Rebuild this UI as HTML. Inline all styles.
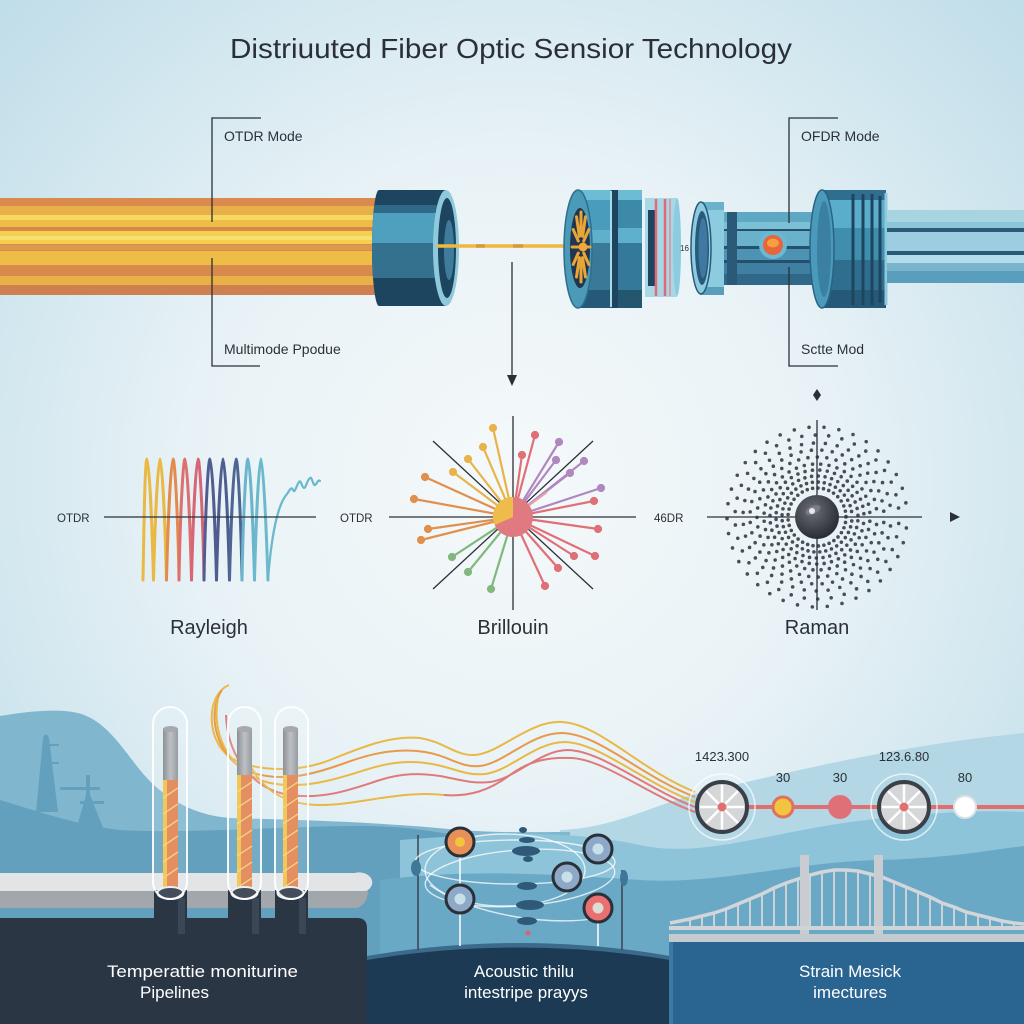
<!DOCTYPE html>
<html><head><meta charset="utf-8">
<style>
html,body{margin:0;padding:0;width:1024px;height:1024px;overflow:hidden;background:#e6f1f5}
svg{display:block}
text{font-family:"Liberation Sans",sans-serif}
</style></head>
<body>
<svg width="1024" height="1024" viewBox="0 0 1024 1024" xmlns="http://www.w3.org/2000/svg">
<defs>
<radialGradient id="bg" cx="512" cy="480" r="720" gradientUnits="userSpaceOnUse">
<stop offset="0" stop-color="#f5f9fa"/>
<stop offset="0.45" stop-color="#e8f2f6"/>
<stop offset="1" stop-color="#bddce8"/>
</radialGradient>
<radialGradient id="ball" cx="0.4" cy="0.35" r="0.7">
<stop offset="0" stop-color="#6a6e76"/>
<stop offset="1" stop-color="#25282e"/>
</radialGradient>
<linearGradient id="rodg" x1="0" y1="0" x2="1" y2="0">
<stop offset="0" stop-color="#7d8288"/>
<stop offset="0.5" stop-color="#b4b8bc"/>
<stop offset="1" stop-color="#8a8e94"/>
</linearGradient>
<clipPath id="c1"><path d="M379,190 L446,190 L446,306 L379,306 A7,58 0 0,1 379,190 Z"/></clipPath>
<clipPath id="cab"><path d="M0,198 L378,198 A8,48.5 0 0,1 378,295 L0,295 Z"/></clipPath>
</defs>

<rect width="1024" height="1024" fill="url(#bg)"/>

<!-- Title -->
<text x="511" y="58" font-size="28" text-anchor="middle" textLength="562" lengthAdjust="spacingAndGlyphs" fill="#2a2f38">Distriuuted Fiber Optic Sensior Technology</text>

<!-- ===== TOP FIBER ===== -->
<g clip-path="url(#cab)">
<rect x="0" y="198" width="390" height="97" fill="#d98a4c"/>
<rect x="0" y="206" width="390" height="9" fill="#e8b048"/>
<rect x="0" y="215" width="390" height="5" fill="#f6d862"/>
<rect x="0" y="220" width="390" height="7" fill="#eebd46"/>
<rect x="0" y="227" width="390" height="3" fill="#d6884a"/>
<rect x="0" y="231" width="390" height="13" fill="#f4cf50"/>
<rect x="0" y="236" width="390" height="4" fill="#f8e070"/>
<rect x="0" y="245" width="390" height="5" fill="#dc9a4c"/>
<rect x="0" y="251" width="390" height="14" fill="#eebd46"/>
<rect x="0" y="266" width="390" height="9" fill="#d68a4c"/>
<rect x="0" y="276" width="390" height="9" fill="#e9b048"/>
<rect x="0" y="285" width="390" height="10" fill="#cf8050"/>
</g>

<!-- connector 1 -->
<g clip-path="url(#c1)">
<rect x="370" y="190" width="80" height="116" fill="#1d4560"/>
<rect x="370" y="205" width="80" height="8" fill="#2e6a88"/>
<rect x="370" y="213" width="80" height="30" fill="#4f9fbe"/>
<rect x="370" y="243" width="80" height="35" fill="#33718f"/>
</g>
<ellipse cx="446" cy="248" rx="13" ry="58" fill="#8fcadc"/>
<ellipse cx="447" cy="248" rx="9" ry="50" fill="#1d4560"/>
<ellipse cx="449" cy="250" rx="5" ry="30" fill="#3f7c9c"/>
<!-- fiber -->
<line x1="437" y1="246" x2="578" y2="246" stroke="#f0b83c" stroke-width="3.5"/>
<line x1="476" y1="246" x2="485" y2="246" stroke="#d49a3e" stroke-width="3.5"/>
<line x1="513" y1="246" x2="523" y2="246" stroke="#d49a3e" stroke-width="3.5"/>

<!-- connector 2 -->
<rect x="645" y="198" width="32" height="99" fill="#a8d8e6"/>
<rect x="648" y="210" width="8" height="76" fill="#1d4560"/>
<line x1="656" y1="199" x2="656" y2="296" stroke="#e06a78" stroke-width="2.5"/>
<line x1="665" y1="199" x2="665" y2="296" stroke="#e06a78" stroke-width="2.5"/>
<line x1="670" y1="199" x2="670" y2="296" stroke="#e88a94" stroke-width="1.5"/>
<ellipse cx="677" cy="247" rx="4" ry="49" fill="#8ccbe0"/>
<rect x="610" y="190" width="32" height="118" fill="#3d8aa8"/>
<rect x="610" y="190" width="32" height="10" fill="#6dbcd6"/>
<rect x="610" y="228" width="32" height="15" fill="#5fb0cc"/>
<rect x="610" y="243" width="32" height="47" fill="#34789a"/>
<rect x="610" y="290" width="32" height="18" fill="#24566f"/>
<rect x="610" y="190" width="8" height="118" fill="#1d4560"/>
<rect x="580" y="190" width="31" height="118" fill="#4a9cbc"/>
<rect x="580" y="190" width="31" height="10" fill="#6dbcd6"/>
<rect x="580" y="230" width="31" height="13" fill="#5fb0cc"/>
<rect x="580" y="243" width="31" height="47" fill="#3a7a98"/>
<rect x="580" y="290" width="31" height="18" fill="#245a78"/>
<line x1="611" y1="191" x2="611" y2="307" stroke="#a8dbe8" stroke-width="2"/>
<ellipse cx="578" cy="249" rx="14" ry="59" fill="#4a9ab8" stroke="#2e6f8e" stroke-width="1.5"/>
<ellipse cx="580" cy="248" rx="10" ry="40" fill="#1f3550"/>
<g stroke="#e9a535" stroke-width="3" stroke-linecap="round">
<line x1="584" y1="247" x2="590" y2="247"/>
<line x1="583.7" y1="253" x2="588.8" y2="264.5"/>
<line x1="582.6" y1="257.6" x2="585.5" y2="277"/>
<line x1="581" y1="259.3" x2="581" y2="282"/>
<line x1="579.4" y1="257.6" x2="576.5" y2="277"/>
<line x1="578.3" y1="253" x2="573.2" y2="264.5"/>
<line x1="577.8" y1="247" x2="572" y2="247"/>
<line x1="578.3" y1="241" x2="573.2" y2="229.5"/>
<line x1="579.4" y1="236.4" x2="576.5" y2="216.7"/>
<line x1="581" y1="234.7" x2="581" y2="212"/>
<line x1="582.6" y1="236.4" x2="585.5" y2="216.7"/>
<line x1="583.7" y1="241" x2="588.8" y2="229.5"/>
</g>
<circle cx="583" cy="247" r="4.5" fill="#f0a838"/>
<text x="680" y="251" font-size="8" fill="#2a2f38">16</text>

<!-- connector 3 -->
<rect x="722" y="212" width="115" height="73" fill="#3f80a2"/>
<rect x="722" y="212" width="115" height="10" fill="#5ea8c4"/>
<rect x="722" y="222" width="115" height="7" fill="#7cc0d6"/>
<rect x="722" y="229" width="115" height="2.5" fill="#24506c"/>
<rect x="722" y="231" width="115" height="15" fill="#6ab2cc"/>
<rect x="722" y="246" width="115" height="3" fill="#24506c"/>
<rect x="722" y="249" width="115" height="11" fill="#4f93b4"/>
<rect x="722" y="260" width="115" height="3" fill="#24506c"/>
<rect x="722" y="274" width="115" height="11" fill="#2f6888"/>
<rect x="727" y="212" width="10" height="73" fill="#2a5a78"/>
<rect x="700" y="202" width="24" height="93" fill="#8ccbe0"/>
<rect x="700" y="202" width="24" height="8" fill="#6ab2cc"/>
<rect x="700" y="287" width="24" height="8" fill="#5a9ebe"/>
<ellipse cx="701" cy="248" rx="10" ry="46" fill="#8ccbe0" stroke="#2a5a78" stroke-width="1.5"/>
<ellipse cx="702" cy="248" rx="7" ry="37" fill="#2a5a7a"/>
<ellipse cx="703" cy="248" rx="4.5" ry="30" fill="#3f78a0"/>
<circle cx="773" cy="245" r="14" fill="#6ab8d4"/>
<circle cx="773" cy="245" r="10" fill="#e8643a"/>
<ellipse cx="773" cy="243" rx="6" ry="4.5" fill="#f2a040"/>
<!-- big ring -->
<rect x="822" y="190" width="64" height="118" fill="#2f6e8e"/>
<rect x="822" y="200" width="64" height="28" fill="#5aaecb"/>
<rect x="822" y="228" width="64" height="32" fill="#3f8eae"/>
<rect x="822" y="290" width="64" height="18" fill="#245a78"/>
<g stroke="#1e4560" stroke-width="3">
<line x1="853" y1="194" x2="853" y2="305"/>
<line x1="863" y1="194" x2="863" y2="305"/>
<line x1="872" y1="194" x2="872" y2="305"/>
<line x1="880" y1="196" x2="880" y2="303"/>
</g>
<line x1="886" y1="193" x2="886" y2="305" stroke="#8fcadc" stroke-width="3"/>
<ellipse cx="822" cy="249" rx="12" ry="59" fill="#4b9abb" stroke="#2a6384" stroke-width="1.5"/>
<ellipse cx="824" cy="249" rx="7" ry="48" fill="#3a80a2"/>
<!-- pipe right -->
<rect x="887" y="210" width="137" height="73" fill="#5a9ebe"/>
<rect x="887" y="210" width="137" height="12" fill="#a8d4e2"/>
<rect x="887" y="222" width="137" height="6" fill="#8cc4d8"/>
<rect x="887" y="228" width="137" height="4" fill="#2a5a78"/>
<rect x="887" y="232" width="137" height="19" fill="#9ccde0"/>
<rect x="887" y="251" width="137" height="4" fill="#2a5a78"/>
<rect x="887" y="255" width="137" height="8" fill="#b2dcea"/>
<rect x="887" y="263" width="137" height="8" fill="#7ab4cc"/>

<!-- brackets / labels -->
<g stroke="#2b3038" stroke-width="1.3" fill="none">
<polyline points="261,118 212,118 212,222"/>
<polyline points="212,258 212,366 260,366"/>
<polyline points="838,118 789,118 789,223"/>
<polyline points="789,267 789,366 838,366"/>
<line x1="512" y1="262" x2="512" y2="378"/>
</g>
<path d="M507,375 L517,375 L512,386 Z" fill="#2b3038"/>
<path d="M817,389 L821,395 L817,401 L813,395 Z" fill="#2b3038"/>
<g font-size="14" fill="#2b3038">
<text x="224" y="141">OTDR Mode</text>
<text x="224" y="354">Multimode Ppodue</text>
<text x="801" y="141">OFDR Mode</text>
<text x="801" y="354">Sctte Mod</text>
</g>

<!-- ===== MIDDLE: scattering ===== -->
<g font-size="11.5" fill="#2b3038">
<text x="57" y="522">OTDR</text>
<text x="340" y="522">OTDR</text>
<text x="654" y="522">46DR</text>
</g>
<g font-size="20" fill="#2b3038" text-anchor="middle">
<text x="209" y="634">Rayleigh</text>
<text x="513" y="634">Brillouin</text>
<text x="817" y="634">Raman</text>
</g>

<!-- Rayleigh -->
<g fill="none" stroke-width="3" stroke-linecap="round">
<path d="M143,580 C144,520 145,459 147,459 C149,459 152,520 153.5,580" stroke="#e9b944"/>
<path d="M153.5,580 C155,520 158,459 160,459 C162,459 165,520 166.5,580" stroke="#e9b944"/>
<path d="M166.5,580 C168,520 171,459 173,459 C175,459 178,520 179,580" stroke="#e38b4b"/>
<path d="M179,580 C180,520 183,459 185,459 C187,459 190,520 191.5,580" stroke="#dc6f6f"/>
<path d="M191.5,580 C193,520 196,459 198,459 C200,459 203,520 204,580" stroke="#d66676"/>
<path d="M204,580 C205,520 208,459 210,459 C212,459 215,520 216.5,580" stroke="#535c90"/>
<path d="M216.5,580 C218,520 221,459 223,459 C225,459 228,520 229.5,580" stroke="#4e5d8f"/>
<path d="M229.5,580 C231,520 234,459 236,459 C238,459 241,520 242,580" stroke="#4e6694"/>
<path d="M242,580 C243,520 246,459 248,459 C250,459 253,520 254.5,580" stroke="#6ab4cc"/>
<path d="M254.5,580 C256,520 259,459 261,459 C263,459 266,520 268,580" stroke="#6cb8cc"/>
<path d="M268,580 C271,540 277,505 287,494 C290,490 291,486 293,490 C295,494 296,486 299,482 C301,479 302,488 304,488 C306,488 307,480 310,478 C312,476 313,486 315,485 C317,484 318,479 320,481" stroke="#6ab8cc" stroke-width="2.2"/>
</g>
<line x1="104" y1="517" x2="316" y2="517" stroke="#2b3038" stroke-width="1.3"/>

<!-- Brillouin -->
<g stroke="#2b3038" stroke-width="1.3">
<line x1="389" y1="517" x2="636" y2="517"/>
<line x1="513" y1="416" x2="513" y2="610"/>
<line x1="433" y1="441" x2="593" y2="589"/>
<line x1="593" y1="441" x2="433" y2="589"/>
</g>
<g stroke-width="2.2">
<g stroke="#e8b44a" fill="#e8b44a">
<line x1="513" y1="517" x2="493" y2="428"/><circle cx="493" cy="428" r="3"/>
<line x1="513" y1="517" x2="483" y2="447"/><circle cx="483" cy="447" r="3"/>
<line x1="513" y1="517" x2="468" y2="459"/><circle cx="468" cy="459" r="3"/>
<line x1="513" y1="517" x2="453" y2="472"/><circle cx="453" cy="472" r="3"/>
</g>
<g stroke="#e0904c" fill="#e0904c">
<line x1="513" y1="517" x2="425" y2="477"/><circle cx="425" cy="477" r="3"/>
<line x1="513" y1="517" x2="414" y2="499"/><circle cx="414" cy="499" r="3"/>
<line x1="513" y1="517" x2="428" y2="529"/><circle cx="428" cy="529" r="3"/>
<line x1="513" y1="517" x2="421" y2="540"/><circle cx="421" cy="540" r="3"/>
</g>
<g stroke="#82b880" fill="#82b880">
<line x1="513" y1="517" x2="452" y2="557"/><circle cx="452" cy="557" r="3"/>
<line x1="513" y1="517" x2="468" y2="572"/><circle cx="468" cy="572" r="3"/>
<line x1="513" y1="517" x2="491" y2="589"/><circle cx="491" cy="589" r="3"/>
</g>
<g stroke="#b088c0" fill="#b088c0">
<line x1="513" y1="517" x2="559" y2="442"/><circle cx="559" cy="442" r="3"/>
<line x1="513" y1="517" x2="556" y2="460"/><circle cx="556" cy="460" r="3"/>
<line x1="513" y1="517" x2="584" y2="461"/><circle cx="584" cy="461" r="3"/>
<line x1="513" y1="517" x2="570" y2="473"/><circle cx="570" cy="473" r="3"/>
<line x1="513" y1="517" x2="601" y2="488"/><circle cx="601" cy="488" r="3"/>
</g>
<g stroke="#e07078" fill="#e07078">
<line x1="513" y1="517" x2="535" y2="435"/><circle cx="535" cy="435" r="3"/>
<line x1="513" y1="517" x2="522" y2="455"/><circle cx="522" cy="455" r="3"/>
<line x1="513" y1="517" x2="594" y2="501"/><circle cx="594" cy="501" r="3"/>
<line x1="513" y1="517" x2="598" y2="529"/><circle cx="598" cy="529" r="3"/>
<line x1="513" y1="517" x2="595" y2="556"/><circle cx="595" cy="556" r="3"/>
<line x1="513" y1="517" x2="574" y2="556"/><circle cx="574" cy="556" r="3"/>
<line x1="513" y1="517" x2="558" y2="568"/><circle cx="558" cy="568" r="3"/>
<line x1="513" y1="517" x2="545" y2="586"/><circle cx="545" cy="586" r="3"/>
<line x1="513" y1="517" x2="547" y2="492" stroke="#e8a0a8"/>
</g>
</g>
<circle cx="513" cy="517" r="20" fill="#e07a80"/>
<path d="M513,517 L513,497 A20,20 0 0,0 494.7,525.1 Z" fill="#eebc4a"/>

<!-- Raman -->
<g fill="none" stroke="#4a4d55" stroke-width="3.6" stroke-linecap="round">
<circle cx="817" cy="517" r="29" stroke-dasharray="0 5.5"/>
<circle cx="817" cy="517" r="35" stroke-dasharray="0 6" stroke-dashoffset="2"/>
<circle cx="817" cy="517" r="41" stroke-dasharray="0 6.8" stroke-dashoffset="3"/>
<circle cx="817" cy="517" r="47" stroke-dasharray="0 7.5" stroke-dashoffset="1"/>
<circle cx="817" cy="517" r="53" stroke-dasharray="0 8.3" stroke-dashoffset="4"/>
<circle cx="817" cy="517" r="60" stroke-dasharray="0 9.5" stroke-dashoffset="2"/>
<circle cx="817" cy="517" r="67" stroke-dasharray="0 10.5" stroke-dashoffset="5"/>
<circle cx="817" cy="517" r="74" stroke-dasharray="0 12" stroke-dashoffset="3"/>
<circle cx="817" cy="517" r="82" stroke-dasharray="0 13.5" stroke-dashoffset="7"/>
<circle cx="817" cy="517" r="90" stroke-dasharray="0 15" stroke-dashoffset="4"/>
</g>
<g stroke="#2b3038" stroke-width="1.3">
<line x1="707" y1="517" x2="922" y2="517"/>
<line x1="817" y1="420" x2="817" y2="610"/>
</g>
<circle cx="817" cy="517" r="22" fill="url(#ball)"/>
<ellipse cx="813" cy="510" rx="8" ry="4" fill="#8a8e96" opacity="0.6" transform="rotate(-25 813 510)"/>
<circle cx="812" cy="511" r="3" fill="#e8e8e8"/>
<path d="M950,512 L960,517 L950,522 Z" fill="#2b3038"/>

<!-- ===== BOTTOM LANDSCAPE ===== -->
<path d="M560,830 C620,828 660,800 720,788 C800,770 900,745 1024,733 L1024,1024 L560,1024 Z" fill="#b3d7e5"/>
<path d="M0,716 C25,712 55,708 78,713 C105,720 120,745 140,770 C160,795 190,815 230,818 C300,820 380,822 460,830 C500,833 530,832 570,832 L570,1024 L0,1024 Z" fill="#80b7ce"/>
<!-- silhouettes -->
<g fill="#62a0be">
<path d="M36,812 L43,738 Q46,731 49,738 L58,812 Z"/>
<rect x="49" y="744" width="10" height="2"/>
<rect x="49" y="762" width="10" height="2"/>
<path d="M76,830 L86,795 L86,775 L90,775 L90,795 L104,830 Z"/>
<rect x="60" y="787" width="40" height="3"/>
<rect x="80" y="801" width="24" height="3"/>
</g>
<path d="M0,800 C40,812 80,826 120,830 C200,834 280,826 360,826 C430,826 470,840 540,850 L540,1024 L0,1024 Z" fill="#62a0be"/>
<path d="M400,840 C480,834 560,828 640,845 C700,858 760,835 850,822 C930,812 980,810 1024,812 L1024,1024 L400,1024 Z" fill="#8ec4d9"/>
<path d="M380,880 C470,868 560,875 640,880 C720,885 790,862 880,860 C950,858 990,850 1024,846 L1024,1024 L380,1024 Z" fill="#6aa9c6"/>

<!-- fiber waves -->
<g fill="none" stroke-width="2">
<path d="M229,685 C205,695 205,745 235,760 C260,772 300,772 330,760 C360,748 390,735 420,738 C445,742 455,756 475,755 C500,753 530,720 562,722 C600,724 640,770 695,792" stroke="#e9b845"/>
<path d="M222,690 C205,715 218,760 250,772 C285,784 320,772 345,763 C375,752 400,748 425,752 C450,756 460,768 480,766 C505,763 530,733 562,733 C600,734 640,776 695,797" stroke="#e89a4c"/>
<path d="M218,698 C210,740 235,775 270,783 C305,790 340,778 365,770 C390,762 410,760 432,764 C455,768 465,776 485,774 C510,771 535,742 565,742 C600,743 642,782 695,802" stroke="#e9b845"/>
<path d="M226,715 C228,760 255,790 290,795 C325,800 355,788 380,780 C402,773 420,773 440,776 C462,780 472,784 490,782 C515,779 540,750 568,750 C602,751 645,788 695,807" stroke="#e07a7a"/>
<path d="M240,735 C250,785 280,805 320,805 C360,805 400,790 444,795" stroke="#e9b845"/>
<path d="M444,795 C470,797 490,790 510,775 C530,760 550,757 572,758 C605,760 648,795 695,812" stroke="#e07a7a"/>
</g>

<!-- pipe -->
<path d="M0,873 L355,873 A13,17.5 0 0,1 355,908 L0,908 Z" fill="#a2a7ac"/>
<path d="M0,873 L355,873 A13,10 0 0,1 366,891 L0,891 Z" fill="#e2e4e6"/>

<!-- left panel -->
<path d="M0,918 L357,918 Q367,918 367,928 L367,1024 L0,1024 Z" fill="#2b3645"/>
<!-- tube bases -->
<g fill="#2b3645">
<rect x="154" y="890" width="33" height="44"/>
<rect x="228" y="890" width="33" height="44"/>
<rect x="275" y="890" width="33" height="44"/>
</g>
<g fill="#3b4656">
<rect x="178" y="898" width="7" height="36"/>
<rect x="252" y="898" width="7" height="36"/>
<rect x="299" y="898" width="7" height="36"/>
</g>

<!-- tubes -->
<g>
<rect x="163" y="728" width="15" height="55" fill="url(#rodg)"/>
<ellipse cx="170.5" cy="729" rx="7.5" ry="3" fill="#9a9ea4"/>
<rect x="163" y="780" width="15" height="110" fill="#e0804c"/>
<rect x="163" y="780" width="4" height="110" fill="#f0c040"/>
<rect x="237" y="728" width="15" height="50" fill="url(#rodg)"/>
<ellipse cx="244.5" cy="729" rx="7.5" ry="3" fill="#9a9ea4"/>
<rect x="237" y="775" width="15" height="115" fill="#e0804c"/>
<rect x="237" y="775" width="4" height="115" fill="#f0c040"/>
<rect x="283" y="728" width="15" height="50" fill="url(#rodg)"/>
<ellipse cx="290.5" cy="729" rx="7.5" ry="3" fill="#9a9ea4"/>
<rect x="283" y="775" width="15" height="115" fill="#e0804c"/>
<rect x="283" y="775" width="4" height="115" fill="#f0c040"/>
</g>
<g stroke="#f5d27a" stroke-width="1.3">
<line x1="163" y1="798" x2="178" y2="788"/><line x1="163" y1="814" x2="178" y2="804"/><line x1="163" y1="830" x2="178" y2="820"/><line x1="163" y1="846" x2="178" y2="836"/><line x1="163" y1="862" x2="178" y2="852"/><line x1="163" y1="878" x2="178" y2="868"/>
<line x1="237" y1="792" x2="252" y2="782"/><line x1="237" y1="808" x2="252" y2="798"/><line x1="237" y1="824" x2="252" y2="814"/><line x1="237" y1="840" x2="252" y2="830"/><line x1="237" y1="856" x2="252" y2="846"/><line x1="237" y1="872" x2="252" y2="862"/><line x1="237" y1="888" x2="252" y2="878"/>
<line x1="283" y1="792" x2="298" y2="782"/><line x1="283" y1="808" x2="298" y2="798"/><line x1="283" y1="824" x2="298" y2="814"/><line x1="283" y1="840" x2="298" y2="830"/><line x1="283" y1="856" x2="298" y2="846"/><line x1="283" y1="872" x2="298" y2="862"/><line x1="283" y1="888" x2="298" y2="878"/>
</g>
<g fill="#2b3645" stroke="#e8eef2" stroke-width="2">
<ellipse cx="170.5" cy="893" rx="13" ry="6"/>
<ellipse cx="244.5" cy="893" rx="13" ry="6"/>
<ellipse cx="290.5" cy="893" rx="13" ry="6"/>
</g>
<g fill="#ffffff" fill-opacity="0.12" stroke="#ffffff" stroke-width="2" stroke-opacity="0.9">
<rect x="153" y="707" width="34" height="192" rx="17"/>
<rect x="228" y="707" width="33" height="192" rx="16.5"/>
<rect x="275" y="707" width="33" height="192" rx="16.5"/>
</g>

<!-- middle panel -->
<path d="M367,956 Q520,930 670,956 L670,1024 L367,1024 Z" fill="#3c6a8a"/>
<path d="M367,960 Q520,935 670,960 L670,1024 L367,1024 Z" fill="#1c3a54"/>

<!-- acoustic -->
<g stroke="#3a4350" stroke-width="1.5">
<line x1="418" y1="835" x2="418" y2="950"/>
<line x1="622" y1="870" x2="622" y2="950"/>
</g>
<g stroke="#ffffff" stroke-width="1.5">
<line x1="460" y1="857" x2="460" y2="946"/>
<line x1="598" y1="923" x2="598" y2="946"/>
</g>
<g fill="none" stroke="#ffffff" stroke-opacity="0.75" stroke-width="1.4">
<ellipse cx="515" cy="862" rx="100" ry="22"/>
<ellipse cx="520" cy="878" rx="95" ry="28" transform="rotate(-4 520 878)"/>
<ellipse cx="505" cy="870" rx="80" ry="36"/>
<path d="M430,885 C470,915 560,930 610,915"/>
</g>
<g fill="#2e5a78">
<ellipse cx="523" cy="830" rx="4" ry="3"/>
<ellipse cx="527" cy="840" rx="8" ry="3"/>
<ellipse cx="526" cy="851" rx="14" ry="5"/>
<ellipse cx="528" cy="859" rx="5" ry="3"/>
<ellipse cx="527" cy="886" rx="10" ry="4"/>
<ellipse cx="530" cy="905" rx="14" ry="5"/>
<ellipse cx="527" cy="921" rx="10" ry="4"/>
</g>
<g fill="#3e7898">
<ellipse cx="416" cy="868" rx="5" ry="8"/>
<ellipse cx="624" cy="878" rx="4" ry="8"/>
</g>
<circle cx="528" cy="933" r="2.5" fill="#e06070"/>
<g stroke="#2a3038" stroke-width="3">
<circle cx="460" cy="842" r="14" fill="#e8905a"/>
<circle cx="460" cy="899" r="14" fill="#8ea8c8"/>
<circle cx="598" cy="849" r="14" fill="#8ea8c8"/>
<circle cx="567" cy="877" r="14" fill="#8ea8c8"/>
<circle cx="598" cy="908" r="14" fill="#e87070"/>
</g>
<circle cx="460" cy="842" r="5" fill="#f2c43e"/>
<circle cx="460" cy="899" r="5.5" fill="#c8e0e8"/>
<circle cx="598" cy="849" r="5.5" fill="#c8e0e8"/>
<circle cx="567" cy="877" r="5.5" fill="#c8e0e8"/>
<circle cx="598" cy="908" r="5.5" fill="#dcdcd2"/>

<!-- bridge -->
<g stroke="#cdd2d6" stroke-width="2">
<line x1="690" y1="919" x2="690" y2="930"/><line x1="702" y1="916" x2="702" y2="930"/><line x1="714" y1="913" x2="714" y2="930"/><line x1="726" y1="909" x2="726" y2="930"/><line x1="738" y1="904" x2="738" y2="930"/><line x1="750" y1="899" x2="750" y2="930"/><line x1="762" y1="894" x2="762" y2="930"/><line x1="774" y1="888" x2="774" y2="930"/><line x1="786" y1="883" x2="786" y2="930"/><line x1="798" y1="879" x2="798" y2="930"/><line x1="810" y1="875" x2="810" y2="930"/><line x1="822" y1="872" x2="822" y2="930"/><line x1="834" y1="870" x2="834" y2="930"/><line x1="846" y1="870" x2="846" y2="930"/><line x1="858" y1="871" x2="858" y2="930"/><line x1="870" y1="874" x2="870" y2="930"/><line x1="882" y1="877" x2="882" y2="930"/><line x1="894" y1="882" x2="894" y2="930"/><line x1="906" y1="887" x2="906" y2="930"/><line x1="918" y1="892" x2="918" y2="930"/><line x1="930" y1="897" x2="930" y2="930"/><line x1="942" y1="903" x2="942" y2="930"/><line x1="954" y1="907" x2="954" y2="930"/><line x1="966" y1="912" x2="966" y2="930"/><line x1="978" y1="915" x2="978" y2="930"/><line x1="990" y1="918" x2="990" y2="930"/><line x1="1002" y1="921" x2="1002" y2="930"/><line x1="1014" y1="923" x2="1014" y2="930"/>
</g>
<polyline fill="none" stroke="#d2d6da" stroke-width="3.5" points="670,923 690,919 702,916 714,913 726,909 738,904 750,899 762,894 774,888 786,883 798,879 810,875 822,872 834,870 846,870 858,871 870,874 882,877 894,882 906,887 918,892 930,897 942,903 954,907 966,912 978,915 990,918 1002,921 1014,923 1024,924"/>
<rect x="800" y="855" width="9" height="82" fill="#c9cdd1"/>
<rect x="874" y="855" width="9" height="82" fill="#c9cdd1"/>
<rect x="669" y="926" width="355" height="4" fill="#cfd4d8"/>
<rect x="669" y="934" width="355" height="8" fill="#c3cad0"/>
<rect x="669" y="942" width="355" height="82" fill="#2a6490"/>
<rect x="669" y="942" width="4" height="82" fill="#3a7aa4"/>

<!-- sensor line -->
<line x1="697" y1="807" x2="1024" y2="807" stroke="#e07070" stroke-width="4"/>
<g fill="none" stroke="#ffffff" stroke-opacity="0.7" stroke-width="1.5">
<circle cx="722" cy="807" r="33"/>
<circle cx="904" cy="807" r="33"/>
</g>
<g>
<circle cx="722" cy="807" r="25" fill="#d4d6d8" stroke="#3a3f48" stroke-width="4"/>
<g stroke="#ffffff" stroke-width="2.5">
<line x1="700" y1="807" x2="744" y2="807"/><line x1="722" y1="785" x2="722" y2="829"/>
<line x1="706" y1="791" x2="738" y2="823"/><line x1="738" y1="791" x2="706" y2="823"/>
</g>
<circle cx="722" cy="807" r="4.5" fill="#e07070"/>
<circle cx="904" cy="807" r="25" fill="#d4d6d8" stroke="#3a3f48" stroke-width="4"/>
<g stroke="#ffffff" stroke-width="2.5">
<line x1="882" y1="807" x2="926" y2="807"/><line x1="904" y1="785" x2="904" y2="829"/>
<line x1="888" y1="791" x2="920" y2="823"/><line x1="920" y1="791" x2="888" y2="823"/>
</g>
<circle cx="904" cy="807" r="4.5" fill="#e07070"/>
</g>
<circle cx="783" cy="807" r="10" fill="#f2c440" stroke="#e07060" stroke-width="3"/>
<circle cx="840" cy="807" r="12" fill="#e07078"/>
<circle cx="965" cy="807" r="11" fill="#ffffff" stroke="#dde2e6" stroke-width="2"/>
<g font-size="13" fill="#2b3038" text-anchor="middle">
<text x="722" y="761">1423.300</text>
<text x="904" y="761">123.6.80</text>
<text x="783" y="782">30</text>
<text x="840" y="782">30</text>
<text x="965" y="782">80</text>
</g>

<!-- bottom labels -->
<g font-size="17" fill="#ffffff">
<text x="107" y="977" textLength="191" lengthAdjust="spacingAndGlyphs">Temperattie moniturine</text>
<text x="140" y="998">Pipelines</text>
<text x="524" y="977" text-anchor="middle">Acoustic thilu</text>
<text x="526" y="998" text-anchor="middle">intestripe prayys</text>
<text x="850" y="977" text-anchor="middle">Strain Mesick</text>
<text x="850" y="998" text-anchor="middle">imectures</text>
</g>
</svg>
</body></html>
